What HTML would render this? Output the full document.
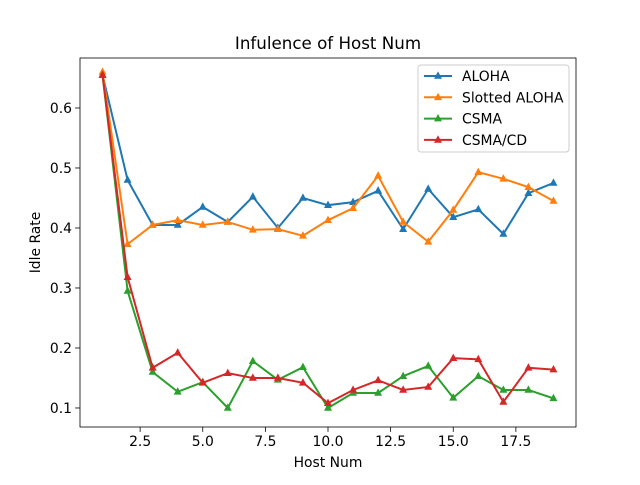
<!DOCTYPE html>
<html><head><meta charset="utf-8"><style>
body{margin:0;background:#fff}
svg text{font-family:"DejaVu Sans","Liberation Sans",sans-serif;fill:#000}
</style></head><body>
<svg id="chart" width="640" height="480" xmlns="http://www.w3.org/2000/svg">
<rect width="640" height="480" fill="#fff"/>
<g id="plot"></g>
</svg>
<script>
const xs=[1,2,3,4,5,6,7,8,9,10,11,12,13,14,15,16,17,18,19];
const aloha=[0.655,0.48,0.405,0.405,0.435,0.41,0.452,0.40,0.45,0.438,0.443,0.462,0.398,0.465,0.418,0.431,0.39,0.458,0.475];
const slotted=[0.66,0.373,0.405,0.413,0.405,0.41,0.397,0.398,0.387,0.413,0.433,0.487,0.41,0.377,0.43,0.493,0.482,0.468,0.445];
const csma=[0.655,0.295,0.16,0.127,0.143,0.1,0.178,0.147,0.168,0.1,0.125,0.125,0.153,0.17,0.117,0.153,0.13,0.13,0.116];
const csmacd=[0.655,0.318,0.167,0.192,0.142,0.158,0.15,0.15,0.142,0.108,0.13,0.146,0.13,0.135,0.183,0.181,0.11,0.167,0.164];
const xTicks=[2.5,5.0,7.5,10.0,12.5,15.0,17.5];
const yTicks=[0.1,0.2,0.3,0.4,0.5,0.6];
const names=["ALOHA","Slotted ALOHA","CSMA","CSMA/CD"];
const colors=["#1f77b4","#ff7f0e","#2ca02c","#d62728"];
const L=80,R=576,T=58,B=427;
const xmin=0.1,xmax=19.9,ymin=0.0683,ymax=0.6833;
const X=v=>L+(v-xmin)/(xmax-xmin)*(R-L);
const Y=v=>B-(v-ymin)/(ymax-ymin)*(B-T);
const svg=document.getElementById('plot');
const NS="http://www.w3.org/2000/svg";
function mk(t,a,p){const e=document.createElementNS(NS,t);for(const k in a)e.setAttribute(k,a[k]);(p||svg).appendChild(e);return e;}
function tri(x,y,c,p){return mk('polygon',{points:`${x},${y-4.6} ${x-4},${y+2.8} ${x+4},${y+2.8}`,fill:c},p);}
xTicks.forEach(v=>{const g=mk('g',{});


mk('line',{x1:X(v),x2:X(v),y1:B,y2:B+4.9,stroke:'#000','stroke-width':0.8},g);
const t=mk('text',{x:X(v),y:B+19,'font-size':13.9,'text-anchor':'middle'},g);t.textContent=v.toFixed(1);});
yTicks.forEach(v=>{const g=mk('g',{});


mk('line',{x1:L-4.9,x2:L,y1:Y(v),y2:Y(v),stroke:'#000','stroke-width':0.8},g);
const t=mk('text',{x:L-8,y:Y(v)+5,'font-size':13.9,'text-anchor':'end'},g);t.textContent=v.toFixed(1);});
[aloha,slotted,csma,csmacd].forEach((s,i)=>{const g=mk('g',{});


mk('polyline',{points:s.map((v,j)=>X(xs[j])+','+Y(v)).join(' '),fill:'none',stroke:colors[i],'stroke-width':2},g);
s.forEach((v,j)=>tri(X(xs[j]),Y(v),colors[i],g));});
const fr=mk('rect',{x:L,y:T,width:R-L,height:B-T,fill:'none',stroke:'#000','stroke-width':0.8});


const ti=mk('text',{x:(L+R)/2,y:49,'font-size':16.7,'text-anchor':'middle'});ti.textContent='Infulence of Host Num';


const xl=mk('text',{x:(L+R)/2,y:467,'font-size':13.9,'text-anchor':'middle'});xl.textContent='Host Num';


const yl=mk('text',{x:0,y:0,'font-size':13.9,'text-anchor':'middle',transform:`translate(40,${(T+B)/2}) rotate(-90)`});yl.textContent='Idle Rate';


const lg=mk('g',{});


mk('rect',{x:418,y:65,width:151,height:87,rx:3,fill:'#fff',stroke:'#ccc','stroke-width':1},lg);
names.forEach((n,i)=>{const y=76+i*21.3;const e=mk('g',{},lg);


mk('line',{x1:424,x2:452,y1:y,y2:y,stroke:colors[i],'stroke-width':2},e);tri(438,y,colors[i],e);
const t=mk('text',{x:462,y:y+5,'font-size':13.9},e);t.textContent=n;});
</script>
</body></html>
